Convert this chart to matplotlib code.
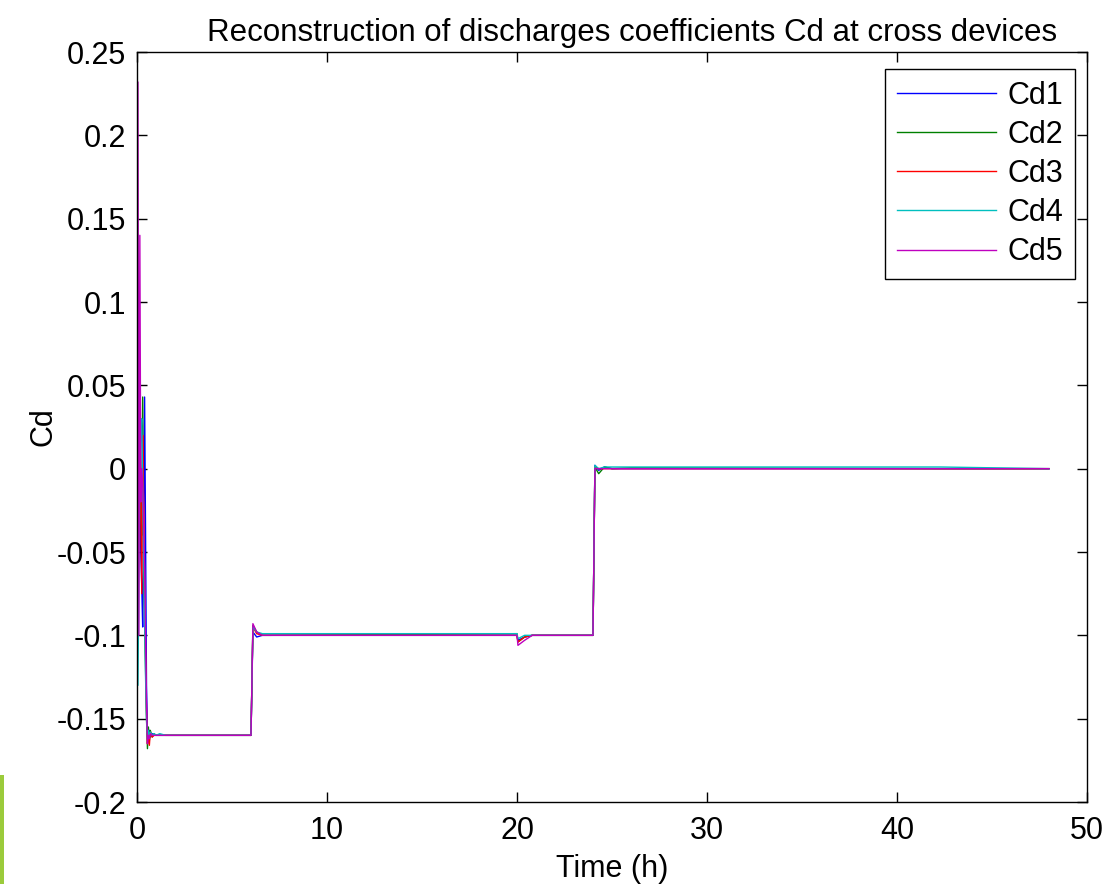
import matplotlib
matplotlib.use("Agg")
import matplotlib.pyplot as plt
from matplotlib.patches import Rectangle

# time axis (hours), shared by all five series
t_h = [0.0, 0.05, 0.1, 0.15, 0.2, 0.25, 0.3, 0.35, 0.4, 0.45, 0.5, 0.55, 0.6, 0.65, 0.7,
       0.8, 0.9, 1.0, 1.2, 1.5, 6.0, 6.1, 6.3, 6.6, 7.0, 20.0, 20.05, 20.4, 20.8,
       24.0, 24.1, 24.3, 24.6, 25.0, 26.0, 42.3, 48.0]

cd1 = [-0.005, -0.03, 0.01, -0.02, -0.05, -0.07, -0.095, -0.03, 0.043, -0.04, -0.13, -0.158, -0.163, -0.157, -0.161,
       -0.159, -0.16, -0.16, -0.16, -0.16, -0.16, -0.098, -0.101, -0.1, -0.1, -0.1, -0.103, -0.101, -0.1,
       -0.1, 0.002, -0.001, 0.001, 0.0, 0.0, 0.0, 0.0]
cd2 = [0.0, 0.02, -0.03, 0.01, -0.02, -0.04, 0.043, -0.059, -0.09, -0.12, -0.15, -0.168, -0.155, -0.163, -0.157,
       -0.161, -0.159, -0.16, -0.16, -0.16, -0.16, -0.094, -0.098, -0.1, -0.1, -0.099, -0.104, -0.101, -0.1,
       -0.1, 0.001, -0.003, 0.001, 0.0, 0.0005, 0.0, 0.0]
cd3 = [-0.012, 0.0, 0.015, 0.031, -0.02, -0.075, 0.02, -0.02, -0.07, -0.11, -0.145, -0.165, -0.158, -0.166, -0.158,
       -0.161, -0.16, -0.16, -0.16, -0.16, -0.16, -0.095, -0.099, -0.1, -0.1, -0.1, -0.104, -0.101, -0.1,
       -0.1, 0.001, 0.0, 0.0, 0.0, 0.0, 0.0, 0.0]
cd4 = [0.0, -0.13, -0.06, 0.0, 0.02, 0.03, -0.01, -0.05, -0.09, -0.125, -0.15, -0.162, -0.157, -0.161, -0.158,
       -0.16, -0.159, -0.16, -0.159, -0.16, -0.16, -0.095, -0.098, -0.099, -0.099, -0.099, -0.102, -0.1, -0.1,
       -0.1, 0.002, 0.0, 0.001, 0.001, 0.001, 0.001, 0.0]
cd5 = [0.0, 0.232, -0.1, 0.14, -0.02, 0.0, -0.01, -0.03, -0.06, -0.1, -0.14, -0.165, -0.16, -0.162, -0.159,
       -0.16, -0.16, -0.16, -0.16, -0.16, -0.16, -0.093, -0.098, -0.1, -0.1, -0.1, -0.106, -0.103, -0.1,
       -0.1, 0.0, 0.0, 0.0, 0.0, 0.0, 0.0, 0.0]

series = [cd1, cd2, cd3, cd4, cd5]
names = ["Cd1", "Cd2", "Cd3", "Cd4", "Cd5"]
colors = ["#0000ff", "#008000", "#ff0000", "#00bfbf", "#bf00bf"]

x_ticks = [0, 10, 20, 30, 40, 50]
y_ticks = [-0.2, -0.15, -0.1, -0.05, 0, 0.05, 0.1, 0.15, 0.2, 0.25]
y_tick_labels = ["-0.2", "-0.15", "-0.1", "-0.05", "0", "0.05", "0.1", "0.15", "0.2", "0.25"]

plt.rcParams["font.family"] = ["Liberation Sans", "DejaVu Sans"]
fs = 22

fig = plt.figure(figsize=(11.07, 8.85), dpi=100)
ax = fig.add_axes([137 / 1107, 83 / 885, 950 / 1107, 750 / 885])

for vals, name, col in zip(series, names, colors):
    ax.plot(t_h, vals, color=col, lw=1.0, label=name)

ax.set_xlim(0, 50)
ax.set_ylim(-0.2, 0.25)
ax.set_xticks(x_ticks)
ax.set_xticklabels([str(v) for v in x_ticks])
ax.set_yticks(y_ticks)
ax.set_yticklabels(y_tick_labels)
ax.tick_params(direction="in", length=7, width=1, top=True, right=True, labelsize=fs)
ax.tick_params(axis="x", pad=10)
ax.tick_params(axis="y", pad=8)
for sp in ax.spines.values():
    sp.set_linewidth(1.0)

ax.set_title("Reconstruction of discharges coefficients Cd at cross devices", fontsize=22.5, pad=8, x=0.521)
ax.set_xlabel("Time (h)", fontsize=fs, labelpad=6)
ax.set_ylabel("Cd", fontsize=fs, labelpad=-2)

leg = ax.legend(loc="upper right", bbox_to_anchor=(1 - 12 / 950, 1 - 17 / 750), borderaxespad=0,
                fontsize=fs, fancybox=False, edgecolor="black", framealpha=1,
                handlelength=3.25, handletextpad=0.38, labelspacing=0.3, borderpad=0.38)
leg.get_frame().set_linewidth(1.0)

# little green mark at the bottom left edge of the original picture
fig.patches.append(Rectangle((0, 1 / 885), 4 / 1107, 109 / 885, transform=fig.transFigure,
                             facecolor="#9bcb3b", edgecolor="none"))

fig.savefig("out.png", dpi=100)
